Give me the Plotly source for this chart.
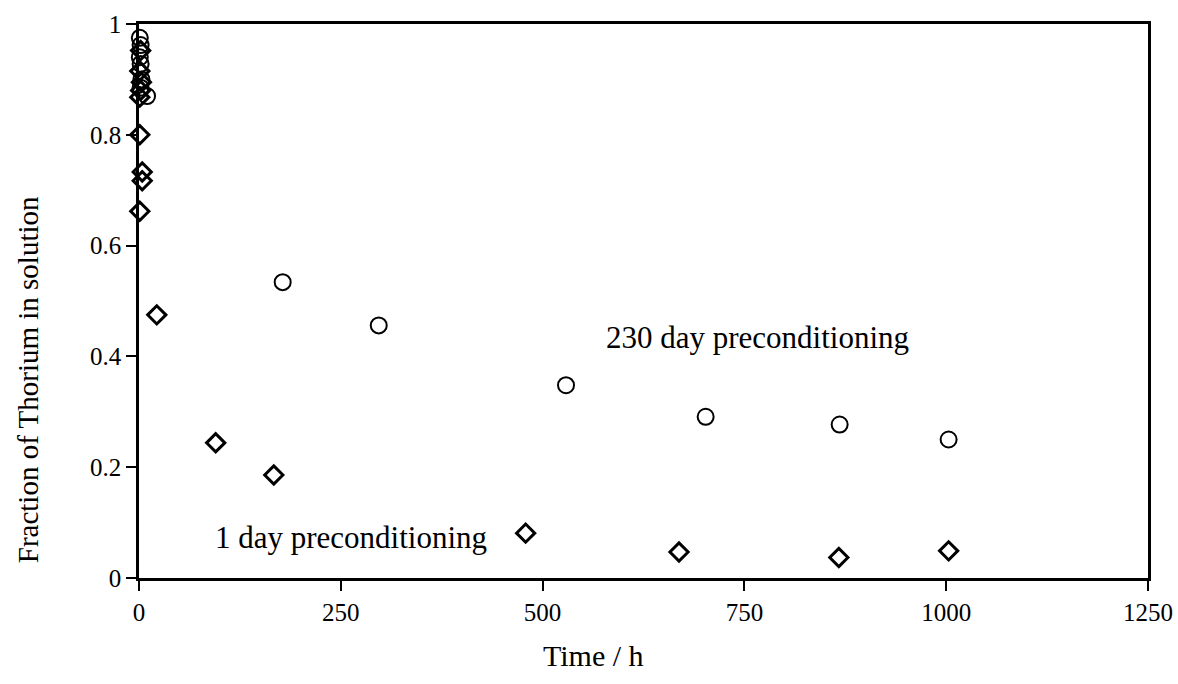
import plotly.graph_objects as go

# 230 day preconditioning (open circles)
t230 = [1, 2, 1, 2, 3, 2, 10, 178, 297, 529, 702, 868, 1003]
f230 = [0.975, 0.962, 0.940, 0.928, 0.900, 0.885, 0.870, 0.534, 0.456, 0.348, 0.291, 0.277, 0.250]

# 1 day preconditioning (open diamonds)
t1 = [2, 1, 3, 2, 1, 1, 4, 4, 1, 22, 95, 167, 479, 669, 867, 1003]
f1 = [0.952, 0.915, 0.895, 0.880, 0.868, 0.800, 0.733, 0.717, 0.662, 0.475, 0.244, 0.186, 0.081, 0.047, 0.037, 0.049]

xticks = [0, 250, 500, 750, 1000, 1250]
yticks = [0, 0.2, 0.4, 0.6, 0.8, 1]
yticklabels = ["0", "0.2", "0.4", "0.6", "0.8", "1"]

FONT = "Liberation Serif"

fig = go.Figure()
fig.add_trace(go.Scatter(
    x=t230, y=f230, mode="markers", name="230 day preconditioning",
    marker=dict(symbol="circle-open", size=16, color="black", line=dict(width=2, color="black")),
    cliponaxis=False,
))
fig.add_trace(go.Scatter(
    x=t1, y=f1, mode="markers", name="1 day preconditioning",
    marker=dict(symbol="diamond-open", size=14, color="black", line=dict(width=3, color="black")),
    cliponaxis=False,
))

fig.add_annotation(x=766, y=0.435, text="230 day preconditioning", showarrow=False,
                   xanchor="center", yanchor="middle",
                   font=dict(family=FONT, size=31, color="black"))
fig.add_annotation(x=263, y=0.074, text="1 day preconditioning", showarrow=False,
                   xanchor="center", yanchor="middle",
                   font=dict(family=FONT, size=31, color="black"))

# axis titles placed as in the reference
fig.add_annotation(xref="paper", yref="paper", x=0.45, y=-0.139, text="Time / h",
                   xanchor="center", yanchor="middle",
                   showarrow=False, font=dict(family=FONT, size=30, color="black"))
fig.add_annotation(xref="paper", yref="paper", x=-0.11, y=0.357, text="Fraction of Thorium in solution",
                   xanchor="center", yanchor="middle",
                   showarrow=False, textangle=-90, font=dict(family=FONT, size=29, color="black"))

axis_common = dict(
    showline=True, linecolor="black", linewidth=2.5, mirror=True,
    ticks="outside", ticklen=10, tickwidth=2, tickcolor="black",
    showgrid=False, zeroline=False, automargin=False,
    tickfont=dict(family=FONT, size=25, color="black"),
)

fig.update_xaxes(range=[0, 1250], tickvals=xticks, ticktext=[str(v) for v in xticks], **axis_common)
fig.update_yaxes(range=[0, 1], tickvals=yticks, ticktext=yticklabels, **axis_common)

fig.update_layout(
    width=1178, height=684,
    margin=dict(l=139, r=30, t=24, b=106, autoexpand=False),
    paper_bgcolor="white", plot_bgcolor="white",
    showlegend=False,
)

fig.write_html("out.html")
